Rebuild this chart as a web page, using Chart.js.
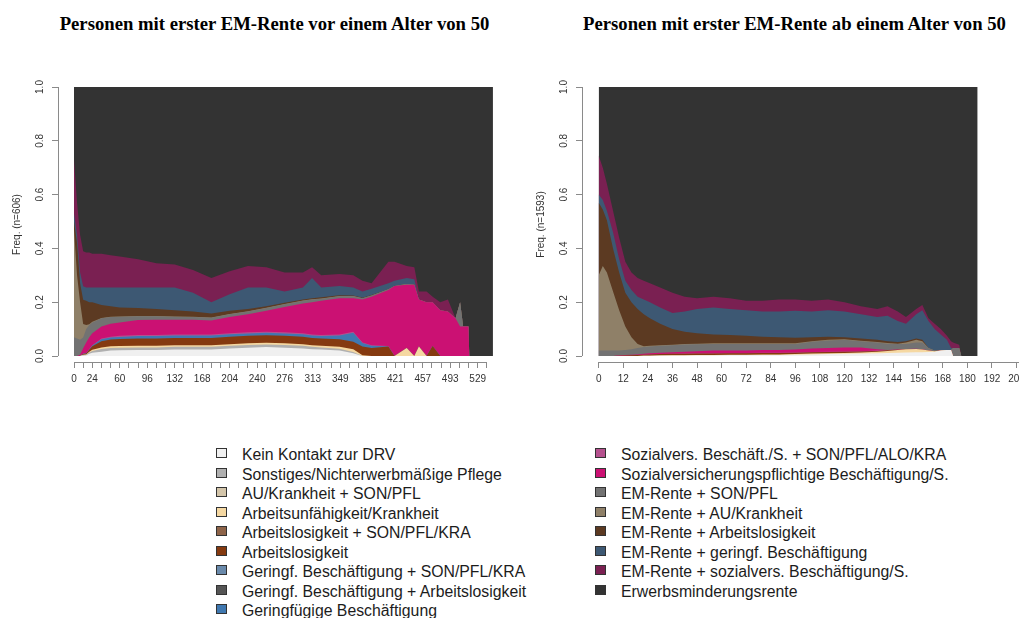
<!DOCTYPE html>
<html lang="de">
<head>
<meta charset="utf-8">
<title>Zustandsverteilung nach erster EM-Rente</title>
<script src="https://cdn.jsdelivr.net/npm/chart.js@4.4.1/dist/chart.umd.min.js"></script>
<style>
  html, body { margin: 0; padding: 0; width: 1019px; height: 618px; overflow: hidden; background: #fff; }
  .plot-title { position: absolute; top: 14px; font-family: "Liberation Serif", "Times New Roman", serif;
    font-weight: bold; font-size: 18.7px; line-height: 20px; text-align: center; color: #000; white-space: nowrap; }
  canvas { position: absolute; top: 0; }
  .legend-row { position: absolute; height: 19.5px; line-height: 19.5px; white-space: nowrap;
    font-family: "Liberation Sans", Arial, Helvetica, sans-serif; font-size: 15.8px; color: #1c1c1c; }
  .legend-box { position: absolute; left: 0; top: 3px; width: 9px; height: 8px; border: 1px solid #333; }
  .legend-text { position: absolute; left: 26px; top: 0; }
</style>
</head>
<body>
<div class="plot-title" style="left:0;width:549px">Personen mit erster EM-Rente vor einem Alter von 50</div>
<div class="plot-title" style="left:570px;width:449px">Personen mit erster EM-Rente ab einem Alter von 50</div>
<canvas id="chartU50" width="510" height="420" style="left:0"></canvas>
<canvas id="chartA50" width="560" height="420" style="left:510px"></canvas>
<div id="legend"></div>
<script>
// ---- states (stacking order, bottom to top) ----
const STATE_LABELS = [
  'Kein Kontakt zur DRV',
  'Sonstiges/Nichterwerbmäßige Pflege',
  'AU/Krankheit + SON/PFL',
  'Arbeitsunfähigkeit/Krankheit',
  'Arbeitslosigkeit + SON/PFL/KRA',
  'Arbeitslosigkeit',
  'Geringf. Beschäftigung + SON/PFL/KRA',
  'Geringf. Beschäftigung + Arbeitslosigkeit',
  'Geringfügige Beschäftigung',
  'Sozialvers. Beschäft./S. + SON/PFL/ALO/KRA',
  'Sozialversicherungspflichtige Beschäftigung/S.',
  'EM-Rente + SON/PFL',
  'EM-Rente + AU/Krankheit',
  'EM-Rente + Arbeitslosigkeit',
  'EM-Rente + geringf. Beschäftigung',
  'EM-Rente + sozialvers. Beschäftigung/S.',
  'Erwerbsminderungsrente'
];
const STATE_COLORS = [
  '#F0F0F0', '#B0B0B0', '#D3C5AA', '#F5D8A2', '#8E6449', '#853A10',
  '#6A8AAB', '#555555', '#4078B0', '#B5518E', '#CB1173', '#727272',
  '#8F8068', '#5C3A22', '#3D5873', '#7A2052', '#333333'
];

// ---- axis ticks ----
const Y_TICKS = [0, 0.2, 0.4, 0.6, 0.8, 1];
const U50_TICKS = [0,12,24,36,48,60,72,84,96,108,120,132,144,156,168,180,192,204,216,228,240,252,264,276,288,
  301,313,325,337,349,361,373,385,397,409,421,433,445,457,469,481,493,505,517,529,541];
const U50_TICK_LABELS = [0,24,60,96,132,168,204,240,276,313,349,385,421,457,493,529];
const A50_TICKS = [0,12,24,36,48,60,72,84,96,108,120,132,144,156,168,180,192,204,216];
const A50_TICK_LABELS = A50_TICKS;

// ---- under 50: months since first EM pension and state shares ----
const U50_MONTHS = [0,4,8,12,16,20,24,36,48,60,84,108,132,156,180,204,228,252,276,300,312,324,348,366,378,390,
  412,420,436,446,452,462,470,480,490,500,506,510,517,518,549];
const U50_KEIN = [0,0,0,0.002,0.003,0.008,0.012,0.016,0.02,0.021,0.022,0.022,0.024,0.024,0.024,0.028,0.031,0.033,
  0.031,0.028,0.025,0.024,0.02,0.01,0,0,0,0,0,0,0,0,0,0,0,0,0,0,0,0,0];
const U50_SONST = [0,0,0,0.002,0.002,0.005,0.007,0.01,0.01,0.01,0.01,0.01,0.01,0.01,0.01,0.01,0.01,0.01,0.01,0.01,
  0.009,0.008,0.007,0.005,0,0,0,0,0,0,0,0,0,0,0,0,0,0,0,0,0];
const U50_AU = [0,0,0,0.001,0.001,0.003,0.004,0.006,0.006,0.006,0.006,0.006,0.006,0.006,0.006,0.006,0.006,0.006,
  0.006,0.006,0.006,0.006,0.007,0.01,0.003,0,0,0,0.03,0,0.035,0,0,0,0,0,0,0,0,0,0];
const U50_ALO = [0,0,0,0.002,0.003,0.007,0.013,0.023,0.025,0.026,0.027,0.027,0.027,0.027,0.027,0.028,0.028,0.028,
  0.028,0.028,0.027,0.027,0.028,0.028,0.032,0.03,0.035,0,0,0,0,0,0.037,0,0,0,0,0,0,0,0];
const U50_GERINGF = [0,0,0,0.001,0.001,0.001,0.003,0.007,0.008,0.008,0.009,0.009,0.009,0.009,0.009,0.009,0.009,
  0.009,0.009,0.009,0.009,0.009,0.014,0.033,0.013,0.008,0,0,0,0,0,0,0,0,0,0,0,0,0,0,0];
const U50_SVSON = [0,0,0,0.001,0,0.001,0.001,0.003,0.003,0.004,0.004,0.004,0.004,0.004,0.004,0.004,0.004,0.004,
  0.004,0.004,0.004,0.004,0.004,0.004,0.002,0.002,0.002,0,0,0,0,0,0,0,0,0,0,0,0,0,0];
const U50_SV = [0,0,0.005,0.02,0.04,0.045,0.045,0.045,0.048,0.05,0.056,0.057,0.055,0.055,0.052,0.06,0.067,0.078,
  0.094,0.11,0.12,0.127,0.135,0.125,0.16,0.18,0.208,0.26,0.235,0.265,0.175,0.2,0.163,0.17,0.165,0.14,0.11,0.11,
  0.11,0,0];
const U50_EM_SON = [0.07,0.065,0.055,0.04,0.05,0.045,0.04,0.03,0.025,0.021,0.014,0.013,0.011,0.01,0.01,0.01,0.01,
  0.01,0.01,0.01,0.01,0.008,0.007,0.007,0.005,0.005,0.003,0,0.003,0,0,0,0,0,0,0,0.09,0,0,0,0];
const U50_EM_AU = [0.4,0.235,0.14,0.05,0.015,0.003,0.002,0.001,0.001,0.001,0.001,0.001,0.001,0.001,0.001,0.001,
  0.001,0.001,0.001,0.001,0.001,0.001,0.001,0.001,0,0,0,0,0,0,0,0,0,0,0,0,0,0,0,0,0];
const U50_EM_ALO = [0.03,0.12,0.07,0.09,0.09,0.082,0.073,0.049,0.039,0.033,0.029,0.026,0.023,0.019,0.015,0.012,
  0.009,0.006,0.005,0.004,0.004,0.004,0.003,0.002,0.002,0.002,0,0,0,0,0,0,0,0,0,0,0,0,0,0,0];
const U50_EM_GER = [0.03,0.03,0.04,0.05,0.05,0.055,0.055,0.065,0.07,0.075,0.077,0.08,0.085,0.07,0.042,0.062,0.08,
  0.07,0.042,0.045,0.075,0.037,0.034,0.03,0.023,0.023,0.022,0.02,0.022,0.02,0,0,0,0,0,0,0,0,0,0,0];
const U50_EM_SV = [0.2,0.12,0.14,0.13,0.13,0.13,0.125,0.125,0.12,0.115,0.105,0.09,0.085,0.085,0.09,0.085,0.08,
  0.075,0.07,0.055,0.04,0.045,0.045,0.045,0.04,0.02,0.08,0.07,0.045,0.045,0.03,0.04,0.02,0.03,0.045,0,0,0,0,0,0];
const U50_EM = [0.27,0.43,0.55,0.611,0.615,0.615,0.62,0.62,0.625,0.63,0.64,0.655,0.66,0.68,0.71,0.685,0.665,0.67,
  0.69,0.69,0.67,0.7,0.695,0.7,0.72,0.73,0.65,0.65,0.665,0.67,0.76,0.76,0.78,0.8,0.79,0.86,0.8,0.89,0.89,1,1];

// ---- 50 and older ----
const A50_MONTHS = [0,2,4,7,10,13,16,19,22,25,30,36,42,48,56,64,72,80,88,96,104,112,120,128,136,141,146,150,155,
  158,161,164,167,170,172,173,176,177,185];
const A50_KEIN = [0,0,0,0,0,0,0,0,0.001,0.001,0.002,0.002,0.002,0.003,0.003,0.004,0.004,0.004,0.004,0.005,0.006,
  0.007,0.008,0.009,0.01,0.011,0.012,0.013,0.014,0.014,0.015,0.016,0.02,0.022,0.022,0,0,0,0];
const A50_AU = [0,0,0,0,0,0,0,0,0,0,0,0.001,0.001,0.001,0.001,0.001,0.001,0.002,0.002,0.002,0.003,0.003,0.003,
  0.004,0.006,0.008,0.01,0.012,0.012,0.01,0.005,0.002,0,0,0,0,0,0,0];
const A50_ALO = [0,0,0,0,0.001,0.002,0.003,0.004,0.004,0.005,0.005,0.005,0.005,0.005,0.005,0.005,0.005,0.005,
  0.005,0.005,0.005,0.005,0.005,0.004,0.003,0.002,0.001,0,0,0,0,0,0,0,0,0,0,0,0];
const A50_SVSON = [0,0,0,0,0,0,0,0,0,0,0,0,0.001,0.001,0.001,0.001,0.001,0.001,0.001,0.001,0.001,0.001,0.001,0.001,
  0.001,0.001,0,0,0,0,0,0,0,0,0,0,0,0,0];
const A50_SV = [0,0,0,0,0.001,0.002,0.002,0.002,0.003,0.004,0.005,0.006,0.007,0.008,0.01,0.009,0.009,0.01,0.01,
  0.011,0.013,0.014,0.015,0.014,0.005,0,0.001,0.001,0.001,0.001,0,0,0,0,0,0,0,0,0];
const A50_EM_SON = [0.02,0.02,0.02,0.02,0.018,0.018,0.02,0.024,0.025,0.025,0.026,0.026,0.027,0.026,0.025,0.025,
  0.025,0.023,0.023,0.021,0.025,0.028,0.028,0.023,0.025,0.024,0.021,0.019,0.023,0.025,0.01,0.002,0,0,0,0.03,0.03,
  0,0];
const A50_EM_AU = [0.28,0.315,0.29,0.22,0.15,0.088,0.045,0.015,0.003,0.003,0.002,0.002,0.002,0.002,0.002,0.002,
  0.002,0.002,0.002,0.002,0.002,0.002,0.002,0.002,0.002,0.002,0.001,0.005,0.01,0.005,0,0,0,0,0,0,0,0,0];
const A50_EM_ALO = [0.27,0.21,0.195,0.16,0.14,0.125,0.13,0.13,0.119,0.102,0.08,0.058,0.045,0.039,0.033,0.031,
  0.028,0.025,0.023,0.021,0.015,0.012,0.008,0.008,0.008,0.007,0.006,0.005,0.005,0.005,0,0,0,0,0,0,0,0,0];
const A50_EM_GER = [0.03,0.035,0.035,0.06,0.05,0.045,0.045,0.045,0.055,0.06,0.06,0.06,0.075,0.09,0.1,0.097,0.095,
  0.093,0.095,0.1,0.095,0.098,0.095,0.09,0.085,0.095,0.078,0.065,0.09,0.11,0.1,0.08,0.06,0.038,0.008,0,0,0,0];
const A50_EM_SV = [0.145,0.12,0.1,0.08,0.08,0.07,0.065,0.07,0.07,0.07,0.075,0.075,0.055,0.04,0.04,0.04,0.035,0.04,
  0.045,0.042,0.04,0.04,0.035,0.03,0.03,0.035,0.035,0.025,0.02,0.02,0.01,0.02,0.02,0.015,0.025,0.02,0.012,0,0];
const A50_EM = [0.255,0.3,0.36,0.46,0.56,0.65,0.69,0.71,0.72,0.73,0.745,0.765,0.78,0.785,0.78,0.785,0.795,0.795,
  0.79,0.79,0.795,0.79,0.8,0.815,0.825,0.815,0.835,0.855,0.825,0.81,0.86,0.88,0.9,0.925,0.945,0.95,0.958,1,1];

// ---- drawing ----
const AXIS_COLOR = '#8a8a8a';
const TEXT_COLOR = '#333333';
const SANS = '"Liberation Sans", Arial, Helvetica, sans-serif';

// R-style axis lines: from the first to the last tick only
const axisLines = {
  id: 'axisLines',
  afterDraw(chart) {
    const { ctx, chartArea } = chart;
    const xs = chart.scales.x, ys = chart.scales.y;
    ctx.save();
    ctx.strokeStyle = AXIS_COLOR;
    ctx.lineWidth = 1;
    ctx.beginPath();
    const yb = Math.round(chartArea.bottom - 0.5) + 0.5;
    ctx.moveTo(xs.getPixelForValue(xs.ticks[0].value), yb);
    ctx.lineTo(xs.getPixelForValue(xs.ticks[xs.ticks.length - 1].value), yb);
    const xl = Math.round(chartArea.left - 0.5) + 0.5;
    ctx.moveTo(xl, ys.getPixelForValue(ys.ticks[0].value));
    ctx.lineTo(xl, ys.getPixelForValue(ys.ticks[ys.ticks.length - 1].value));
    ctx.stroke();
    ctx.restore();
  }
};

function drawStateChart(id, months, series, cfg) {
  const datasets = series.map(([state, values]) => ({
    label: STATE_LABELS[state],
    data: months.map((m, i) => ({ x: m, y: values[i] })),
    backgroundColor: STATE_COLORS[state],
    borderColor: 'rgba(0,0,0,0)',
    borderWidth: 0,
    pointRadius: 0,
    fill: 'origin',
    tension: 0
  }));
  const gridOpts = { display: true, drawOnChartArea: false, drawTicks: true, tickLength: 6,
                     color: AXIS_COLOR, lineWidth: 1 };
  return new Chart(document.getElementById(id), {
    type: 'line',
    data: { datasets },
    plugins: [axisLines],
    options: {
      responsive: false,
      animation: false,
      events: [],
      layout: { padding: { left: 0, right: cfg.padRight, top: 87, bottom: 0 } },
      plugins: { legend: { display: false }, tooltip: { enabled: false }, title: { display: false } },
      scales: {
        x: {
          type: 'linear', min: cfg.xMin, max: cfg.xMax,
          afterBuildTicks: s => { s.ticks = cfg.ticks.map(v => ({ value: v })); },
          afterFit: s => { s.height = 58; s.paddingLeft = 0; s.paddingRight = 0; },
          grid: gridOpts,
          border: { display: false },
          ticks: { autoSkip: false, minRotation: 0, maxRotation: 0, padding: 5, color: TEXT_COLOR,
                   font: { family: SANS, size: 10 },
                   callback: v => cfg.labels.includes(v) ? String(v) : '' }
        },
        y: {
          type: 'linear', stacked: true, min: -0.0223, max: 1,
          afterBuildTicks: s => { s.ticks = Y_TICKS.map(v => ({ value: v })); },
          afterFit: s => { s.width = cfg.yWidth; s.paddingTop = 0; s.paddingBottom = 0; },
          grid: gridOpts,
          border: { display: false },
          ticks: { minRotation: 90, maxRotation: 90, crossAlign: 'center', padding: 5, color: TEXT_COLOR,
                   font: { family: SANS, size: 10 }, callback: v => Number(v).toFixed(1) },
          title: { display: true, text: cfg.yTitle, color: TEXT_COLOR, font: { family: SANS, size: 10 },
                   padding: { top: cfg.titlePad, bottom: 0 } }
        }
      }
    }
  });
}

drawStateChart('chartU50', U50_MONTHS, [
  [0, U50_KEIN], [1, U50_SONST], [3, U50_AU], [5, U50_ALO], [8, U50_GERINGF], [9, U50_SVSON], [10, U50_SV],
  [11, U50_EM_SON], [12, U50_EM_AU], [13, U50_EM_ALO], [14, U50_EM_GER], [15, U50_EM_SV], [16, U50_EM]
], { xMin: -20.97, xMax: 549.1, padRight: 17, yWidth: 58, titlePad: 11, yTitle: 'Freq. (n=606)',
     ticks: U50_TICKS, labels: U50_TICK_LABELS });

drawStateChart('chartA50', A50_MONTHS, [
  [0, A50_KEIN], [3, A50_AU], [5, A50_ALO], [9, A50_SVSON], [10, A50_SV],
  [11, A50_EM_SON], [12, A50_EM_AU], [13, A50_EM_ALO], [14, A50_EM_GER], [15, A50_EM_SV], [16, A50_EM]
], { xMin: -8.15, xMax: 225.2, padRight: 10, yWidth: 72, titlePad: 25.7, yTitle: 'Freq. (n=1593)',
     ticks: A50_TICKS, labels: A50_TICK_LABELS });

// ---- legend: two columns ----
const legend = document.getElementById('legend');
[{ left: 216, from: 0, to: 9 }, { left: 595, from: 9, to: 17 }].forEach(col => {
  for (let s = col.from; s < col.to; s++) {
    const row = document.createElement('div');
    row.className = 'legend-row';
    row.style.left = col.left + 'px';
    row.style.top = (445 + (s - col.from) * 19.5) + 'px';
    const box = document.createElement('span');
    box.className = 'legend-box';
    box.style.background = STATE_COLORS[s];
    const txt = document.createElement('span');
    txt.className = 'legend-text';
    txt.textContent = STATE_LABELS[s];
    row.appendChild(box);
    row.appendChild(txt);
    legend.appendChild(row);
  }
});
</script>
</body>
</html>
